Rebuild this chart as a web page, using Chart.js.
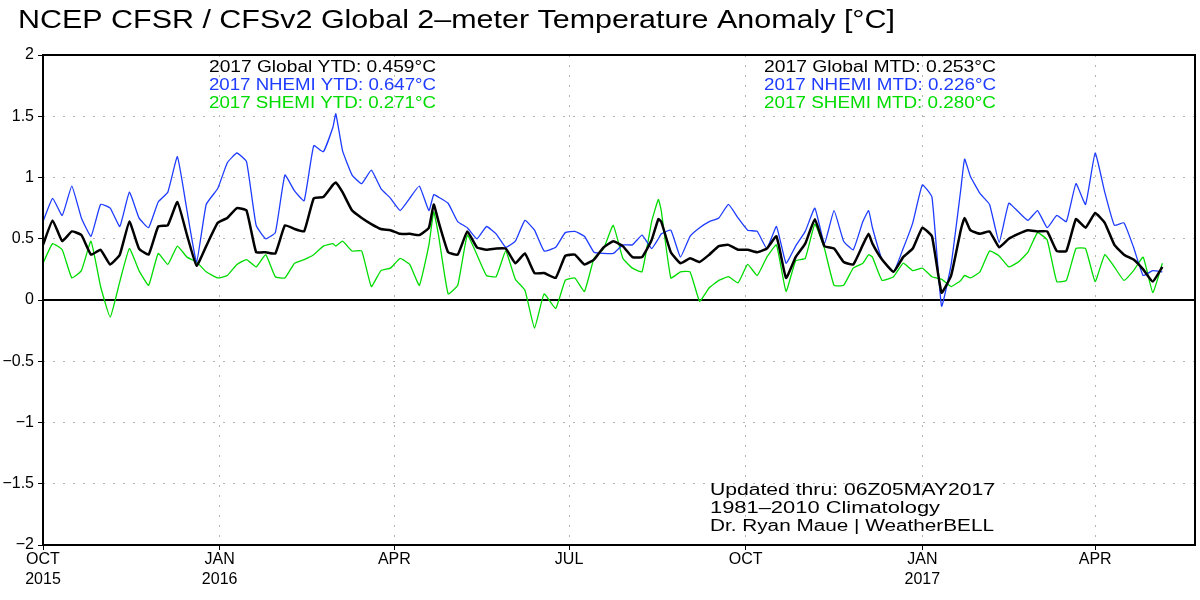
<!DOCTYPE html>
<html>
<head>
<meta charset="utf-8">
<title>NCEP CFSR / CFSv2 Global 2-meter Temperature Anomaly</title>
<script src="https://cdn.jsdelivr.net/npm/chart.js@4.4.1/dist/chart.umd.min.js"></script>
<style>
  html, body { margin: 0; padding: 0; background: #fff; }
  #wrap { width: 1200px; height: 600px; position: relative; }
</style>
</head>
<body>
<div id="wrap"><canvas id="anomChart"></canvas></div>
<script>
// x = days since 1 Oct 2015, values = 2m temperature anomaly (°C)
const days = [
  0, 5, 10, 15, 20, 25, 30, 35, 40, 45,
  50, 55, 60, 65, 70, 75, 80, 85, 91, 96,
  101, 106, 111, 116, 121, 126, 131, 136, 141, 146,
  151, 152.5, 156, 161, 166, 171, 176, 181, 186, 191,
  196, 201, 203.5, 206, 211, 216, 221, 226, 231, 236,
  241, 246, 251, 256, 261, 267, 272, 277, 282, 287,
  292, 297, 302, 307, 312, 317, 320.5, 322, 327, 332,
  337, 342, 347, 352, 357, 362, 367, 372, 377, 382,
  387, 392, 397, 402, 407, 412, 417, 422, 427, 430,
  432, 437, 443, 448, 453, 458, 463, 468, 473, 478,
  480, 483, 488, 493, 498, 503, 508, 513, 518, 523,
  528, 533, 538, 543, 548, 553, 558, 563, 568, 573,
  578, 583
];

const globalAnom = [
  0.45, 0.65, 0.48, 0.56, 0.53, 0.37, 0.41, 0.29, 0.37, 0.64,
  0.42, 0.37, 0.60, 0.61, 0.80, 0.53, 0.28, 0.44, 0.63, 0.67,
  0.75, 0.73, 0.39, 0.39, 0.38, 0.61, 0.58, 0.56, 0.83, 0.84,
  0.94, 0.96, 0.88, 0.73, 0.67, 0.62, 0.58, 0.57, 0.54, 0.54,
  0.53, 0.59, 0.78, 0.64, 0.39, 0.37, 0.56, 0.43, 0.41, 0.42,
  0.42, 0.30, 0.38, 0.22, 0.22, 0.18, 0.36, 0.37, 0.29, 0.33,
  0.43, 0.48, 0.44, 0.35, 0.35, 0.49, 0.66, 0.64, 0.39, 0.30,
  0.34, 0.31, 0.37, 0.44, 0.45, 0.41, 0.41, 0.39, 0.42, 0.52,
  0.18, 0.35, 0.46, 0.66, 0.44, 0.42, 0.31, 0.29, 0.45, 0.54,
  0.46, 0.33, 0.23, 0.35, 0.42, 0.59, 0.52, 0.06, 0.20, 0.57,
  0.67, 0.57, 0.54, 0.56, 0.43, 0.50, 0.54, 0.57, 0.56, 0.56,
  0.40, 0.40, 0.66, 0.59, 0.71, 0.63, 0.45, 0.37, 0.33, 0.25,
  0.15, 0.27
];

const nhemiAnom = [
  0.64, 0.83, 0.69, 0.93, 0.67, 0.52, 0.78, 0.75, 0.60, 0.88,
  0.67, 0.59, 0.80, 0.88, 1.17, 0.73, 0.31, 0.78, 0.91, 1.12,
  1.20, 1.13, 0.61, 0.50, 0.55, 1.02, 0.89, 0.81, 1.26, 1.21,
  1.41, 1.52, 1.22, 1.02, 0.95, 1.06, 0.91, 0.83, 0.73, 0.83,
  0.93, 0.73, 0.86, 0.84, 0.79, 0.64, 0.59, 0.50, 0.60, 0.54,
  0.43, 0.48, 0.65, 0.57, 0.40, 0.43, 0.55, 0.56, 0.52, 0.39,
  0.38, 0.38, 0.45, 0.45, 0.53, 0.42, 0.50, 0.54, 0.57, 0.35,
  0.52, 0.59, 0.64, 0.67, 0.78, 0.67, 0.57, 0.56, 0.42, 0.60,
  0.30, 0.44, 0.56, 0.75, 0.46, 0.73, 0.48, 0.41, 0.64, 0.73,
  0.59, 0.33, 0.23, 0.42, 0.63, 0.94, 0.84, -0.05, 0.29, 0.90,
  1.15, 1.01, 0.87, 0.78, 0.47, 0.79, 0.72, 0.65, 0.73, 0.59,
  0.69, 0.64, 0.95, 0.78, 1.20, 0.88, 0.61, 0.63, 0.43, 0.20,
  0.24, 0.23
];

const shemiAnom = [
  0.30, 0.46, 0.41, 0.18, 0.24, 0.48, 0.11, -0.14, 0.15, 0.42,
  0.24, 0.12, 0.38, 0.29, 0.44, 0.35, 0.31, 0.23, 0.18, 0.20,
  0.29, 0.33, 0.27, 0.37, 0.19, 0.18, 0.30, 0.33, 0.37, 0.44,
  0.46, 0.44, 0.48, 0.40, 0.40, 0.11, 0.24, 0.26, 0.34, 0.29,
  0.12, 0.45, 0.72, 0.53, 0.05, 0.12, 0.53, 0.37, 0.20, 0.19,
  0.40, 0.17, 0.08, -0.23, 0.05, -0.07, 0.16, 0.18, 0.07, 0.34,
  0.42, 0.61, 0.34, 0.26, 0.23, 0.64, 0.82, 0.73, 0.18, 0.23,
  0.23, -0.01, 0.10, 0.16, 0.19, 0.14, 0.29, 0.20, 0.35, 0.45,
  0.07, 0.32, 0.34, 0.62, 0.42, 0.12, 0.12, 0.26, 0.30, 0.37,
  0.35, 0.16, 0.19, 0.30, 0.24, 0.26, 0.19, 0.17, 0.11, 0.16,
  0.20, 0.18, 0.23, 0.40, 0.36, 0.27, 0.31, 0.39, 0.55, 0.49,
  0.15, 0.16, 0.42, 0.42, 0.15, 0.37, 0.27, 0.16, 0.24, 0.35,
  0.06, 0.30
];

// month ticks (days since 1 Oct 2015) and their labels
const monthTicks = [0, 92, 183, 274, 366, 458, 548];
const monthLabels = [['OCT', '2015'], ['JAN', '2016'], 'APR', 'JUL', 'OCT', ['JAN', '2017'], 'APR'];

const BLUE = '#1e3cff';
const GREEN = '#00dc00';

const notes = [
  { text: 'NCEP CFSR / CFSv2 Global 2–meter Temperature Anomaly [°C]', x: 18, y: 21, w: 877, size: 26, color: '#000' },
  { text: '2017 Global YTD: 0.459°C', x: 209, y: 68, w: 227, size: 16, color: '#000' },
  { text: '2017 NHEMI YTD: 0.647°C', x: 209, y: 86, w: 227, size: 16, color: BLUE },
  { text: '2017 SHEMI YTD: 0.271°C', x: 209, y: 104, w: 227, size: 16, color: GREEN },
  { text: '2017 Global MTD: 0.253°C', x: 764, y: 68, w: 232, size: 16, color: '#000' },
  { text: '2017 NHEMI MTD: 0.226°C', x: 764, y: 86, w: 232, size: 16, color: BLUE },
  { text: '2017 SHEMI MTD: 0.280°C', x: 764, y: 104, w: 232, size: 16, color: GREEN },
  { text: 'Updated thru: 06Z05MAY2017', x: 710, y: 491, w: 285, size: 16, color: '#000' },
  { text: '1981–2010 Climatology', x: 710, y: 509, w: 230, size: 16, color: '#000' },
  { text: 'Dr. Ryan Maue | WeatherBELL', x: 710, y: 527, w: 284, size: 16, color: '#000' }
];

const pts = arr => days.map((d, i) => ({ x: d, y: arr[i] }));

const framePlugin = {
  id: 'frame',
  beforeDatasetsDraw(chart) {
    const { ctx, chartArea: a, scales } = chart;
    const y0 = scales.y.getPixelForValue(0);
    ctx.save();
    ctx.strokeStyle = '#000';
    ctx.lineWidth = 2;
    ctx.beginPath();
    ctx.moveTo(a.left, y0);
    ctx.lineTo(a.right, y0);
    ctx.stroke();
    ctx.restore();
  },
  afterDatasetsDraw(chart) {
    const { ctx, chartArea: a } = chart;
    ctx.save();
    ctx.strokeStyle = '#000';
    ctx.lineWidth = 2;
    ctx.strokeRect(a.left, a.top, a.right - a.left, a.bottom - a.top);
    ctx.restore();
  },
  afterDraw(chart) {
    const ctx = chart.ctx;
    ctx.save();
    ctx.textBaseline = 'middle';
    ctx.textAlign = 'left';
    notes.forEach(n => {
      ctx.font = n.size + 'px "Liberation Sans", Arial, sans-serif';
      ctx.fillStyle = n.color;
      const w = ctx.measureText(n.text).width;
      ctx.save();
      ctx.translate(n.x, n.y);
      ctx.scale(n.w / w, 1);
      ctx.fillText(n.text, 0, 0);
      ctx.restore();
    });
    ctx.restore();
  }
};

new Chart(document.getElementById('anomChart'), {
  type: 'line',
  data: {
    datasets: [
      { label: 'Global', data: pts(globalAnom), borderColor: '#000', borderWidth: 2.5 },
      { label: 'NHEMI', data: pts(nhemiAnom), borderColor: BLUE, borderWidth: 1.3 },
      { label: 'SHEMI', data: pts(shemiAnom), borderColor: GREEN, borderWidth: 1.3 }
    ]
  },
  options: {
    responsive: true,
    maintainAspectRatio: false,
    animation: false,
    layout: { padding: { left: 0, right: 5, top: 55, bottom: 0 } },
    elements: {
      point: { radius: 0 },
      line: { tension: 0.12, fill: false }
    },
    plugins: {
      legend: { display: false },
      tooltip: { enabled: false },
      title: { display: false }
    },
    scales: {
      x: {
        type: 'linear',
        min: 0,
        max: 600,
        afterBuildTicks: scale => { scale.ticks = monthTicks.map(v => ({ value: v })); },
        afterFit: scale => { scale.height = 55; },
        ticks: {
          autoSkip: false,
          maxRotation: 0,
          padding: 0,
          color: '#000',
          font: { family: '"Liberation Sans", Arial, sans-serif', size: 16, lineHeight: 1.25 },
          callback: value => {
            const i = monthTicks.indexOf(value);
            return i >= 0 ? monthLabels[i] : '';
          }
        },
        grid: { color: '#b4b4b4', lineWidth: 1, tickLength: 5, tickColor: '#000' },
        border: { display: false, dash: [2, 8] }
      },
      y: {
        min: -2,
        max: 2,
        afterFit: scale => { scale.width = 43; },
        ticks: {
          stepSize: 0.5,
          padding: 4,
          color: '#000',
          font: { family: '"Liberation Sans", Arial, sans-serif', size: 16 },
          callback: v => (v < 0 ? '\u2212' + Math.abs(v) : String(v))
        },
        grid: { color: '#b4b4b4', lineWidth: 1, tickLength: 5, tickColor: '#000' },
        border: { display: false, dash: [2, 8] }
      }
    }
  },
  plugins: [framePlugin]
});
</script>
</body>
</html>
